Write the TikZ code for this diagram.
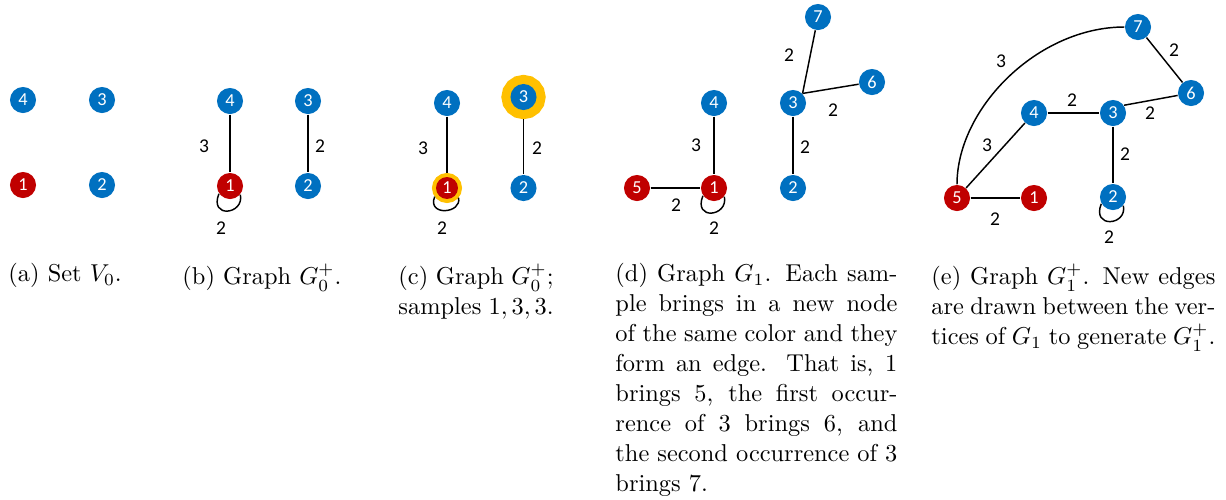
\documentclass[tikz,border=0pt]{standalone}
\usepackage{fontspec}
\usetikzlibrary{positioning}
\newfontfamily\numfont{Carlito}
\definecolor{vblue}{RGB}{0,112,192}
\definecolor{vred}{RGB}{192,0,0}
\definecolor{halogold}{RGB}{255,192,0}

\begin{document}
\begin{tikzpicture}[x=0.41pt,y=-0.41pt,
  every node/.style={font=\numfont\fontsize{7.5}{8}\selectfont},
  vb/.style={circle,fill=vblue,text=white,minimum size=10.7pt,inner sep=0pt},
  vr/.style={vb,fill=vred},
  halo/.style={preaction={draw=halogold,line width=#1},outer sep=#1/2},
  ed/.style={semithick,draw=black},
  wt/.style={font=\numfont\fontsize{8}{9}\selectfont,inner sep=0pt},
  subcap/.style={anchor=north west,inner sep=0pt,align=justify,font=\fontsize{10}{12.3}\selectfont}]
  \useasboundingbox (0,0) rectangle (1226,499);

  % (a) set V0
  \node[vb] (a4) at (23,100) {4};
  \node[vb] (a3) at (102,100) {3};
  \node[vr] (a1) at (23,185) {1};
  \node[vb] (a2) at (102,185) {2};

  % (b) graph G0+
  \node[vb] (b4) at (230,101) {4};
  \node[vb] (b3) at (308,101) {3};
  \node[vr] (b1) at (230,186) {1};
  \node[vb] (b2) at (308,186) {2};
  \draw[ed] (b4) -- (b1);
  \draw[ed] (b3) -- (b2);
  \draw[ed] (b1.215) .. controls +(-10,25) and +(4,20) .. (b1.320);
  \node[wt] (wb41) at (204,146) {3};
  \node[wt] (wb32) at (320,146) {2};
  \node[wt] (wb11) at (221,228) {2};

  % (c) samples 1,3,3
  \node[vb] (c4) at (447,103) {4};
  \node[vb,halo=7.4pt] (c3) at (523.5,97) {3};
  \node[vr,minimum size=9pt,halo=3.3pt] (c1) at (447,188) {1};
  \node[vb] (c2) at (523.5,188) {2};
  \draw[ed] (c4) -- (c1);
  \draw[ed] (c3) -- (c2);
  \draw[ed] (c1.215) .. controls +(-8,20) and +(4,16) .. (c1.320);
  \node[wt] (wc41) at (423,148) {3};
  \node[wt] (wc32) at (537,148) {2};
  \node[wt] (wc11) at (442,228) {2};

  % (d) graph G1
  \node[vb] (d7) at (818,17) {7};
  \node[vb] (d6) at (872,82) {6};
  \node[vb] (d4) at (714,103) {4};
  \node[vb] (d3) at (793,103) {3};
  \node[vr] (d1) at (714,188) {1};
  \node[vr] (d5) at (637,188) {5};
  \node[vb] (d2) at (793,188) {2};
  \draw[ed] (d4) -- (d1);
  \draw[ed] (d3) -- (d2);
  \draw[ed] (d3.45) -- (d7);
  \draw[ed] (d3.45) -- (d6);
  \draw[ed] (d5) -- (d1);
  \draw[ed] (d1.215) .. controls +(-10,25) and +(4,20) .. (d1.320);
  \node[wt] (wd37) at (789,55) {2};
  \node[wt] (wd36) at (833,110) {2};
  \node[wt] (wd41) at (696,145) {3};
  \node[wt] (wd32) at (805,147) {2};
  \node[wt] (wd51) at (676,205) {2};
  \node[wt] (wd11) at (714,228) {2};

  % (e) graph G1+
  \node[vb] (e7) at (1138,27) {7};
  \node[vb] (e6) at (1191,93) {6};
  \node[vb] (e4) at (1034,113) {4};
  \node[vb] (e3) at (1113,113) {3};
  \node[vb] (e2) at (1113,197) {2};
  \node[vr] (e5) at (957,198) {5};
  \node[vr] (e1) at (1034,198) {1};
  \draw[ed] (e5) .. controls +(0,-90) and +(-100,0) .. (e7);
  \draw[ed] (e7) -- (e6);
  \draw[ed] (e4) -- (e3);
  \draw[ed] (e3.35) -- (e6);
  \draw[ed] (e3) -- (e2);
  \draw[ed] (e5) -- (e4);
  \draw[ed] (e5) -- (e1);
  \draw[ed] (e2.210) .. controls +(-10,25) and +(4,20) .. (e2.320);
  \node[wt] (we57) at (1001,61) {3};
  \node[wt] (we76) at (1174,50) {2};
  \node[wt] (we43) at (1072,100) {2};
  \node[wt] (we36) at (1150,113) {2};
  \node[wt] (we32) at (1125,154) {2};
  \node[wt] (we54) at (987,145) {3};
  \node[wt] (we51) at (995,219) {2};
  \node[wt] (we22) at (1109,237) {2};

  % captions
  \node[subcap] (capa) at (8,263) {(a) Set $V_0$.};
  \node[subcap] (capb) at (182,263) {(b) Graph $G_0^+$.};
  \node[subcap,text width=63.6pt] (capc) at (398,263) {(c) Graph $G_0^+$; samples $1,3,3$.};
  \node[subcap,text width=115.6pt] (capd) at (615,263) {(d) Graph $G_1$. Each sample brings in a new node of the same color and they form an edge. That is, 1 brings 5, the first occurrence of 3 brings 6, and the second occurrence of 3 brings 7.};
  \node[subcap,text width=116.4pt] (cape) at (931,263) {(e) Graph $G_1^+$. New edges are drawn between the vertices of $G_1$ to generate $G_1^+$.};
\end{tikzpicture}
\end{document}
